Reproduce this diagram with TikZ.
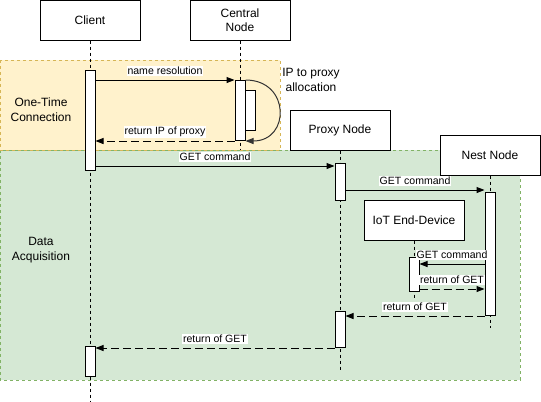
\documentclass[tikz,border=0pt]{standalone}
\usepackage{fontspec}
\setmainfont{Liberation Sans}
\usepackage{xcolor}
\usepackage{tikz}
\usetikzlibrary{arrows.meta}

\definecolor{yelfill}{HTML}{FFF2CC}
\definecolor{yelline}{HTML}{D6B656}
\definecolor{grnfill}{HTML}{D5E8D4}
\definecolor{grnline}{HTML}{82B366}

\tikzset{
  actor/.style={draw, fill=white, minimum width=75pt, minimum height=30pt, inner sep=1pt,
    align=center, font=\fontsize{9}{10.5}\selectfont},
  bar/.style={draw, fill=white, minimum width=7.5pt, inner sep=0pt, anchor=north},
  lifeline/.style={dash pattern=on 2.25pt off 2.25pt},
  msg/.style={->},
  ret/.style={->, dash pattern=on 6pt off 3pt},
  lbl/.style={fill=white, inner sep=0.6pt, yshift=6.75pt, font=\fontsize{7.9}{9}\selectfont},
  region/.style={dash pattern=on 2.25pt off 2.25pt},
  note/.style={align=center, font=\fontsize{9}{11}\selectfont},
}

\begin{document}
\begin{tikzpicture}[x=0.75pt,y=-0.75pt,line width=0.75pt,>={Triangle[length=6pt,width=4.5pt]}]
\useasboundingbox (0,0) rectangle (541,401);
%regions
\draw[region, draw=grnline, fill=grnfill] (0,150) rectangle (520,380);
\draw[region, draw=yelline, fill=yelfill] (0,60) rectangle (280,150);
\node[note] (once) at (41,110) {One-Time\\Connection};
\node[note] (acq) at (41,250) {Data\\Acquisition};
%actors
\node[actor] (client) at (90,20) {Client};
\node[actor] (central) at (240,20) {Central\\Node};
\node[actor] (proxy) at (340,130) {Proxy Node};
\node[actor] (nest) at (490,155) {Nest Node};
\node[actor] (iot) at (414,220) {IoT End-Device};
%lifelines
\draw[lifeline] (client.south) -- (client.south |- 0,401);
\draw[lifeline] (central.south) -- (central.south |- 0,150);
\draw[lifeline] (proxy.south) -- (proxy.south |- 0,370);
\draw[lifeline] (nest.south) -- (nest.south |- 0,328);
\draw[lifeline] (iot.south) -- (iot.south |- 0,300);
%activation bars
\node[bar, minimum height=75pt] (cA1) at (90,70) {};
\node[bar, minimum height=45pt] (cnA1) at (240,80) {};
\node[bar, minimum height=30pt] (cnA2) at (250,90) {};
\node[bar, minimum height=27.75pt] (pA1) at (340,163) {};
\node[bar, minimum height=92.25pt] (nA1) at (490,192) {};
\node[bar, minimum height=25.5pt] (iA1) at (414,257) {};
\node[bar, minimum height=27pt] (pA2) at (340,311) {};
\node[bar, minimum height=22.5pt] (cA2) at (90,346) {};
%one-time connection
\draw[msg] (cA1.east |- cnA1.north) -- node[lbl] {name resolution} (cnA1.north west);
\draw[->, draw=black!80] (cnA1.north east) .. controls +(45,0) and +(45,0) .. (cnA1.south east);
\node[note] (alloc) at (311,80) {IP to proxy\\allocation};
\draw[ret] (cnA1.south west) -- node[lbl] {return IP of proxy} (cA1.east |- cnA1.south);
%data acquisition
\draw[msg] (cA1.east |- 0,166) -- node[lbl] {GET command} (pA1.west |- 0,166);
\draw[msg] (pA1.east |- 0,190) -- node[lbl] {GET command} (nA1.west |- 0,190);
\draw[msg] (nA1.west |- 0,264) -- node[lbl] {GET command} (iA1.east |- 0,264);
\draw[ret] (iA1.east |- 0,289) -- node[lbl] {return of GET} (nA1.west |- 0,289);
\draw[ret] (nA1.south west) -- node[lbl] {return of GET} (pA2.east |- nA1.south);
\draw[ret] (pA2.south west) -- node[lbl] {return of GET} (cA2.east |- pA2.south);
\end{tikzpicture}
\end{document}
